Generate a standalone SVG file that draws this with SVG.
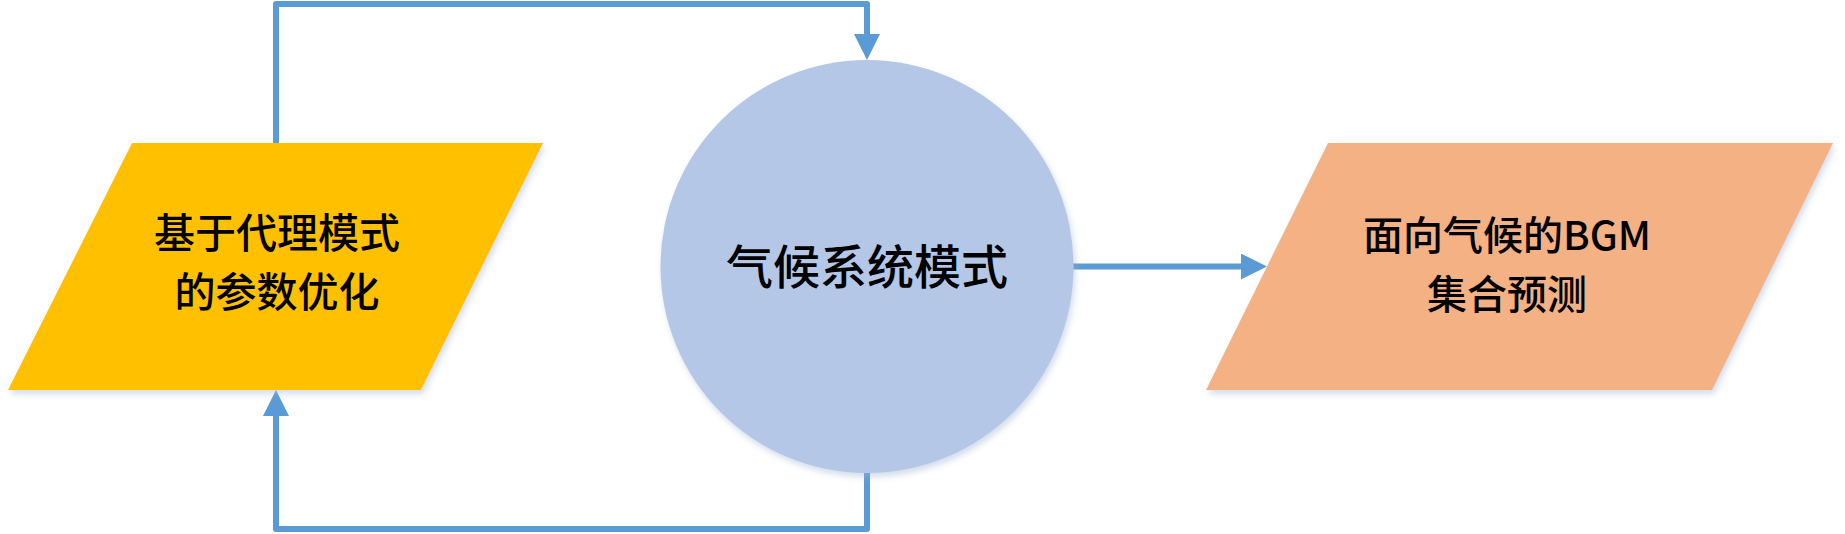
<svg xmlns="http://www.w3.org/2000/svg" width="1845" height="534" viewBox="0 0 1845 534">
  <style>
    .txt { font-family: "Noto Sans CJK SC", "Microsoft YaHei", sans-serif; font-weight: 500; fill: #000; text-anchor: middle; }
    .conn { fill: none; stroke: #5B9BD5; stroke-width: 6; stroke-linecap: round; stroke-linejoin: round; }
  </style>
  <defs>
    <marker id="arrow" markerUnits="userSpaceOnUse" markerWidth="28" markerHeight="28" refX="6" refY="13" orient="auto">
      <path d="M0,0 L26,13 L0,26 z" fill="#5B9BD5"/>
    </marker>
    <filter id="shadow" x="-10%" y="-10%" width="125%" height="130%">
      <feDropShadow dx="2" dy="4" stdDeviation="3" flood-color="#9DB3D3" flood-opacity="0.45"/>
    </filter>
  </defs>
  <rect width="1845" height="534" fill="#FFFFFF"/>

  <g id="connectors">
    <path class="conn" d="M276,143 L276,4 L867,4 L867,40" marker-end="url(#arrow)"/>
    <path class="conn" d="M867,473 L867,529 L276,529 L276,410" marker-end="url(#arrow)"/>
    <path class="conn" d="M1073,266.5 L1247,266.5" marker-end="url(#arrow)"/>
  </g>

  <g id="node-optimization">
    <polygon points="132,143 543,143 421,390 8,390" fill="#FFC000" filter="url(#shadow)"/>
    <text class="txt" x="277" y="248" font-size="41">基于代理模式</text>
    <text class="txt" x="277" y="307" font-size="41">的参数优化</text>
  </g>

  <g id="node-climate">
    <circle cx="867" cy="266.5" r="206.5" fill="#B4C7E7" filter="url(#shadow)"/>
    <text class="txt" x="867" y="284" font-size="47">气候系统模式</text>
  </g>

  <g id="node-bgm">
    <polygon points="1328,143 1833,143 1712,390 1206,390" fill="#F4B183" filter="url(#shadow)"/>
    <text class="txt" x="1507" y="250" font-size="40">面向气候的BGM</text>
    <text class="txt" x="1507" y="309" font-size="40">集合预测</text>
  </g>
</svg>
